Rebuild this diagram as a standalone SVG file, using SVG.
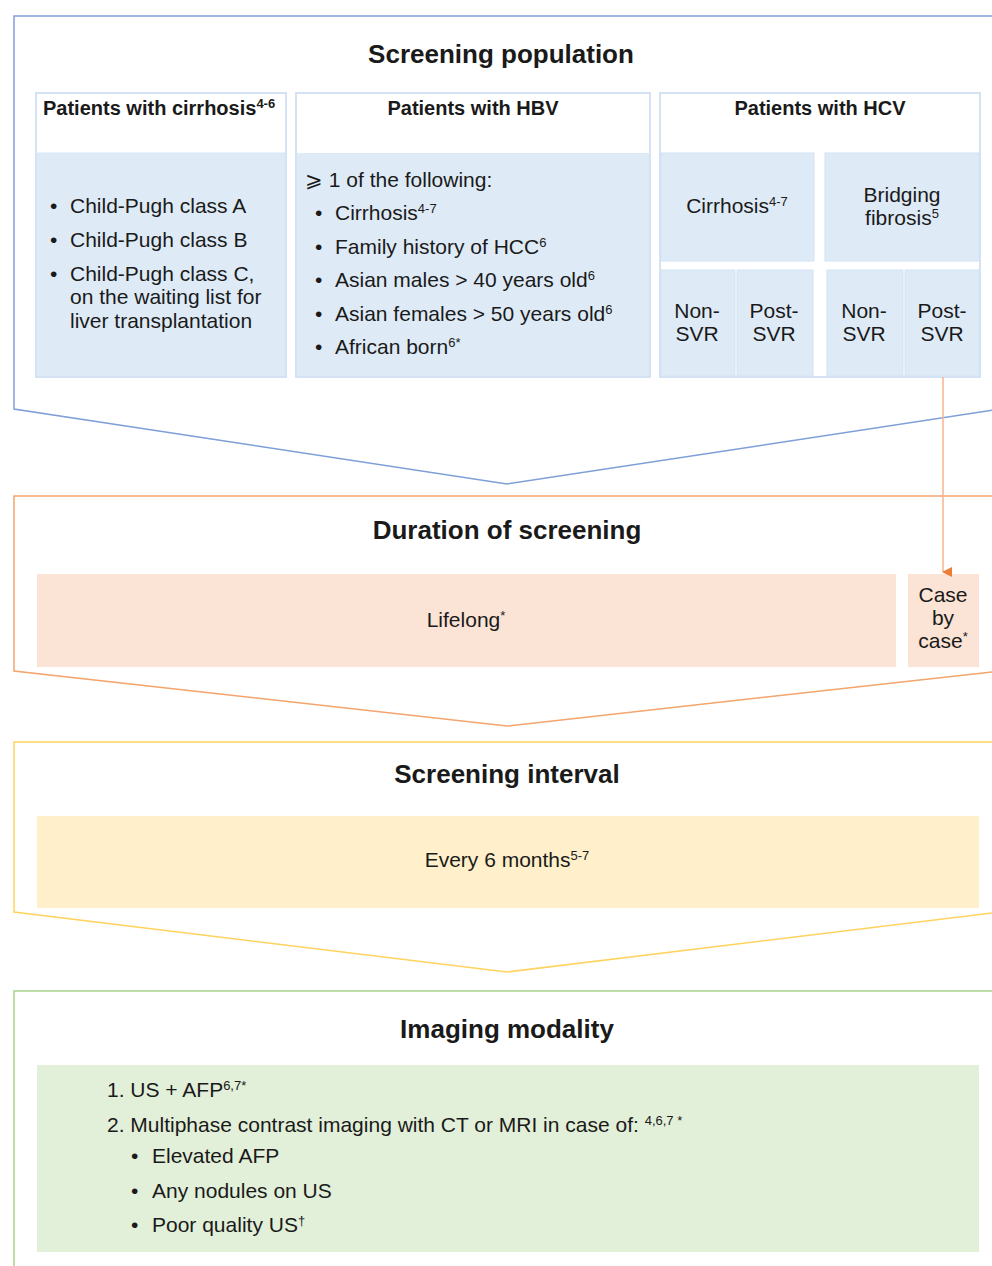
<svg xmlns="http://www.w3.org/2000/svg" width="992" height="1266" viewBox="0 0 992 1266">
<style>
text{font-family:"Liberation Sans",Arial,sans-serif;fill:#1a1a1a}
.title{font-size:26px;font-weight:bold;text-anchor:middle}
.hdr{font-size:20px;font-weight:bold}
.t{font-size:21px}
.c{text-anchor:middle}
.sup{font-size:13px}
.box{fill:#ffffff;stroke:#c6d9f0;stroke-width:1.5}
.body{fill:#deebf7}
.sub{fill:#deebf7;stroke:#d2e2f4;stroke-width:1}
.sec{fill:none;stroke-width:1.5}
</style>
<defs>
<marker id="ah" markerWidth="10" markerHeight="10" refX="5" refY="9" orient="auto" markerUnits="userSpaceOnUse" viewBox="0 0 10 10">
<path d="M0,0 L10,0 L5,10 z" fill="#ee7d36"/>
</marker>
</defs>

<g id="section-population">
<path class="sec" stroke="#7f9fd8" d="M1000,16 L14,16 L14,409 L507,484 L1000,409"/>
<text class="title" x="501" y="63">Screening population</text>
</g>

<g id="node-cirrhosis">
<rect class="box" x="36" y="93" width="250" height="284"/>
<rect class="body" x="37" y="153" width="248" height="223"/>
<line x1="37" y1="153" x2="285" y2="153" stroke="#d6e4f3" stroke-width="1"/>
<text class="hdr" x="43" y="115">Patients with cirrhosis<tspan class="sup" dy="-7">4-6</tspan></text>
<text class="t" x="50" y="213">•</text><text class="t" x="70" y="213">Child-Pugh class A</text>
<text class="t" x="50" y="247">•</text><text class="t" x="70" y="247">Child-Pugh class B</text>
<text class="t" x="50" y="281">•</text><text class="t" x="70" y="281">Child-Pugh class C,</text>
<text class="t" x="70" y="304">on the waiting list for</text>
<text class="t" x="70" y="328">liver transplantation</text>
</g>

<g id="node-hbv">
<rect class="box" x="296" y="93" width="354" height="284"/>
<rect class="body" x="297" y="153" width="352" height="223"/>
<text class="hdr c" x="473" y="115">Patients with HBV</text>
<text class="t" x="305" y="187">⩾ 1 of the following:</text>
<text class="t" x="315" y="220">•</text><text class="t" x="335" y="220">Cirrhosis<tspan class="sup" dy="-7">4-7</tspan></text>
<text class="t" x="315" y="254">•</text><text class="t" x="335" y="254">Family history of HCC<tspan class="sup" dy="-7">6</tspan></text>
<text class="t" x="315" y="287">•</text><text class="t" x="335" y="287">Asian males &gt; 40 years old<tspan class="sup" dy="-7">6</tspan></text>
<text class="t" x="315" y="321">•</text><text class="t" x="335" y="321">Asian females &gt; 50 years old<tspan class="sup" dy="-7">6</tspan></text>
<text class="t" x="315" y="354">•</text><text class="t" x="335" y="354">African born<tspan class="sup" dy="-7">6*</tspan></text>
</g>

<g id="node-hcv">
<rect class="box" x="660" y="93" width="320" height="284"/>
<text class="hdr c" x="820" y="115">Patients with HCV</text>
</g>
<g id="node-hcv-cirrhosis">
<rect class="sub" x="661" y="153" width="153" height="108"/>
<text class="t c" x="737" y="213">Cirrhosis<tspan class="sup" dy="-7">4-7</tspan></text>
</g>
<g id="node-hcv-bridging">
<rect class="sub" x="825" y="153" width="154" height="108"/>
<text class="t c" x="902" y="202">Bridging</text>
<text class="t c" x="902" y="225">fibrosis<tspan class="sup" dy="-7">5</tspan></text>
</g>
<g id="node-c-nonsvr">
<rect class="sub" x="661" y="270" width="74" height="106"/>
<text class="t c" x="697" y="318">Non-</text><text class="t c" x="697" y="341">SVR</text>
</g>
<g id="node-c-postsvr">
<rect class="sub" x="737" y="270" width="76" height="106"/>
<text class="t c" x="774" y="318">Post-</text><text class="t c" x="774" y="341">SVR</text>
</g>
<g id="node-b-nonsvr">
<rect class="sub" x="827" y="270" width="76" height="106"/>
<text class="t c" x="864" y="318">Non-</text><text class="t c" x="864" y="341">SVR</text>
</g>
<g id="node-b-postsvr">
<rect class="sub" x="905" y="270" width="74" height="106"/>
<text class="t c" x="942" y="318">Post-</text><text class="t c" x="942" y="341">SVR</text>
</g>

<g id="section-duration">
<path class="sec" stroke="#f4a46c" d="M1000,496 L14,496 L14,671 L507,726 L1000,671"/>
<text class="title" x="507" y="539">Duration of screening</text>
</g>
<g id="node-lifelong">
<rect x="37" y="574" width="859" height="93" fill="#fbe3d5"/>
<text class="t c" x="466" y="627">Lifelong<tspan class="sup" dy="-7">*</tspan></text>
</g>
<g id="node-casebycase">
<rect x="908" y="574" width="71" height="93" fill="#fbe3d5"/>
<text class="t c" x="943" y="602">Case</text>
<text class="t c" x="943" y="625">by</text>
<text class="t c" x="943" y="648">case<tspan class="sup" dy="-7">*</tspan></text>
</g>

<g id="section-interval">
<path class="sec" stroke="#ffd35e" d="M1000,742 L14,742 L14,912 L507,972 L1000,912"/>
<text class="title" x="507" y="783">Screening interval</text>
</g>
<g id="node-every6">
<rect x="37" y="816" width="942" height="92" fill="#fff0cb"/>
<text class="t c" x="507" y="867">Every 6 months<tspan class="sup" dy="-7">5-7</tspan></text>
</g>

<g id="section-imaging">
<path class="sec" stroke="#a9d18e" d="M14,1266 L14,991 L1000,991"/>
<text class="title" x="507" y="1038">Imaging modality</text>
</g>
<g id="node-imaging">
<rect x="37" y="1065" width="942" height="187" fill="#e2efd9"/>
<text class="t" x="107" y="1097">1. US + AFP<tspan class="sup" dy="-7">6,7*</tspan></text>
<text class="t" x="107" y="1132">2. Multiphase contrast imaging with CT or MRI in case of: <tspan class="sup" dy="-7">4,6,7 *</tspan></text>
<text class="t" x="131" y="1163">•</text><text class="t" x="152" y="1163">Elevated AFP</text>
<text class="t" x="131" y="1198">•</text><text class="t" x="152" y="1198">Any nodules on US</text>
<text class="t" x="131" y="1232">•</text><text class="t" x="152" y="1232">Poor quality US<tspan class="sup" dy="-7">†</tspan></text>
</g>

<g id="connectors">
<line x1="943" y1="377" x2="943" y2="572" stroke="#f6b48e" stroke-width="1.5" marker-end="url(#ah)"/>
</g>
</svg>
